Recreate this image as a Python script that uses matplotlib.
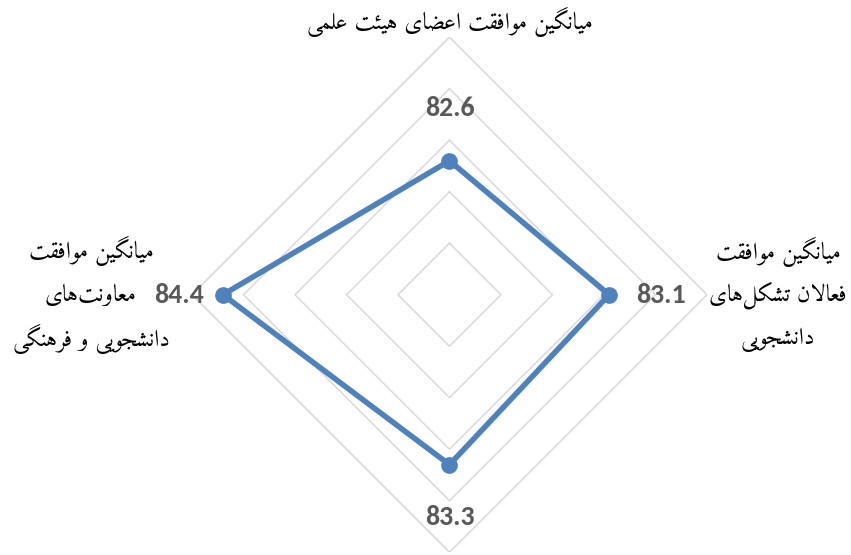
import numpy as np
import matplotlib
matplotlib.use("Agg")
import matplotlib.pyplot as plt

# ---------------- data ----------------
categories = [
    "میانگین موافقت اعضای هیئت علمی",
    "میانگین موافقت\nفعالان تشکل\u200cهای\nدانشجویی",
    "",
    "میانگین موافقت\nمعاونت\u200cهای\nدانشجویی و فرهنگی",
]
values = [82.6, 83.1, 83.3, 84.4]
value_labels = ["82.6", "83.1", "83.3", "84.4"]
r_min, r_max = 80, 85
ring_values = [81, 82, 83, 84, 85]

# ---------------- Persian shaping (matplotlib has no contextual shaping) ----------------
FORMS = {
    'ا': (0xFE8D, 0xFE8E), 'آ': (0xFE81, 0xFE82), 'أ': (0xFE83, 0xFE84), 'إ': (0xFE87, 0xFE88),
    'د': (0xFEA9, 0xFEAA), 'ذ': (0xFEAB, 0xFEAC), 'ر': (0xFEAD, 0xFEAE), 'ز': (0xFEAF, 0xFEB0),
    'ژ': (0xFB8A, 0xFB8B), 'و': (0xFEED, 0xFEEE), 'ؤ': (0xFE85, 0xFE86), 'ة': (0xFE93, 0xFE94),
    'ب': (0xFE8F, 0xFE90, 0xFE91, 0xFE92), 'ت': (0xFE95, 0xFE96, 0xFE97, 0xFE98),
    'ث': (0xFE99, 0xFE9A, 0xFE9B, 0xFE9C), 'ج': (0xFE9D, 0xFE9E, 0xFE9F, 0xFEA0),
    'ح': (0xFEA1, 0xFEA2, 0xFEA3, 0xFEA4), 'خ': (0xFEA5, 0xFEA6, 0xFEA7, 0xFEA8),
    'س': (0xFEB1, 0xFEB2, 0xFEB3, 0xFEB4), 'ش': (0xFEB5, 0xFEB6, 0xFEB7, 0xFEB8),
    'ص': (0xFEB9, 0xFEBA, 0xFEBB, 0xFEBC), 'ض': (0xFEBD, 0xFEBE, 0xFEBF, 0xFEC0),
    'ط': (0xFEC1, 0xFEC2, 0xFEC3, 0xFEC4), 'ظ': (0xFEC5, 0xFEC6, 0xFEC7, 0xFEC8),
    'ع': (0xFEC9, 0xFECA, 0xFECB, 0xFECC), 'غ': (0xFECD, 0xFECE, 0xFECF, 0xFED0),
    'ف': (0xFED1, 0xFED2, 0xFED3, 0xFED4), 'ق': (0xFED5, 0xFED6, 0xFED7, 0xFED8),
    'ک': (0xFB8E, 0xFB8F, 0xFB90, 0xFB91), 'گ': (0xFB92, 0xFB93, 0xFB94, 0xFB95),
    'ل': (0xFEDD, 0xFEDE, 0xFEDF, 0xFEE0), 'م': (0xFEE1, 0xFEE2, 0xFEE3, 0xFEE4),
    'ن': (0xFEE5, 0xFEE6, 0xFEE7, 0xFEE8), 'ه': (0xFEE9, 0xFEEA, 0xFEEB, 0xFEEC),
    'ی': (0xFBFC, 0xFBFD, 0xFBFE, 0xFBFF), 'ي': (0xFEF1, 0xFEF2, 0xFEF3, 0xFEF4),
    'ئ': (0xFE89, 0xFE8A, 0xFE8B, 0xFE8C), 'پ': (0xFB56, 0xFB57, 0xFB58, 0xFB59),
    'چ': (0xFB7A, 0xFB7B, 0xFB7C, 0xFB7D),
    'LA': (0xFEFB, 0xFEFC),
}


def _jtype(t):
    f = FORMS.get(t)
    if f is None:
        return 'U'
    return 'D' if len(f) == 4 else 'R'


def shape_line(line):
    toks, i = [], 0
    while i < len(line):
        if line[i] == 'ل' and i + 1 < len(line) and line[i + 1] == 'ا':
            toks.append('LA'); i += 2
        else:
            toks.append(line[i]); i += 1
    out = []
    for k, t in enumerate(toks):
        jt = _jtype(t)
        if jt == 'U':
            if t != '\u200c':
                out.append(t)
            continue
        pj = k > 0 and _jtype(toks[k - 1]) == 'D'
        nj = jt == 'D' and k + 1 < len(toks) and _jtype(toks[k + 1]) in 'DR'
        f = FORMS[t]
        if jt == 'R':
            out.append(chr(f[1] if pj else f[0]))
        else:
            idx = 3 if (pj and nj) else 1 if pj else 2 if nj else 0
            out.append(chr(f[idx]))
    return ''.join(reversed(out))


# ---------------- figure ----------------
W, H = 851, 555
fig = plt.figure(figsize=(W / 100, H / 100), dpi=100)
cx, cy, R = 449.5, 294.7, 257.5
ax = fig.add_axes([(cx - R) / W, (H - cy - R) / H, 2 * R / W, 2 * R / H], projection='polar')
ax.set_theta_zero_location('N')
ax.set_theta_direction(-1)
ax.set_ylim(r_min, r_max)
ax.grid(False)
ax.set_xticks([])
ax.set_yticks([])
ax.spines['polar'].set_visible(False)
ax.patch.set_visible(False)

n = len(categories)
angles = np.arange(n) * 2 * np.pi / n
closed = np.r_[angles, angles[0]]

grid_color = '#D9D9D9'
for rv in ring_values:
    ax.plot(closed, [rv] * (n + 1), color=grid_color, lw=1.1, zorder=1)

line_color = '#4F81BD'
ax.plot(closed, np.r_[values, values[0]], color=line_color, lw=4.0, zorder=3,
        solid_joinstyle='round')
ax.plot(angles, values, 'o', color=line_color, ms=11, zorder=4)

num_font = ['Carlito', 'Lato', 'DejaVu Sans']
label_dist = [53, 52, 52, 44]
for a, v, s, d in zip(angles, values, value_labels, label_dist):
    ax.annotate(s, xy=(a, v), xytext=(d * np.sin(a), d * np.cos(a)), textcoords='offset pixels',
                ha='center', va='center', fontsize=20, fontweight='bold', color='#595959',
                family=num_font, zorder=5)

fa_font = ['Amiri', 'DejaVu Sans']
cat_offsets = [(0, 15), (71, -1), (0, -20), (-101, 0)]
line_gap = 44  # pixels between label lines
for a, c, off in zip(angles, categories, cat_offsets):
    if not c:
        continue
    lines = c.split('\n')
    m = len(lines)
    for j, ln in enumerate(lines):
        dy = off[1] + ((m - 1) / 2 - j) * line_gap
        ax.annotate(shape_line(ln), xy=(a, r_max), xytext=(off[0], dy), textcoords='offset pixels',
                    ha='center', va='center', fontsize=17, color='black', family=fa_font,
                    annotation_clip=False)

fig.savefig('out.png', dpi=100, facecolor='white')
